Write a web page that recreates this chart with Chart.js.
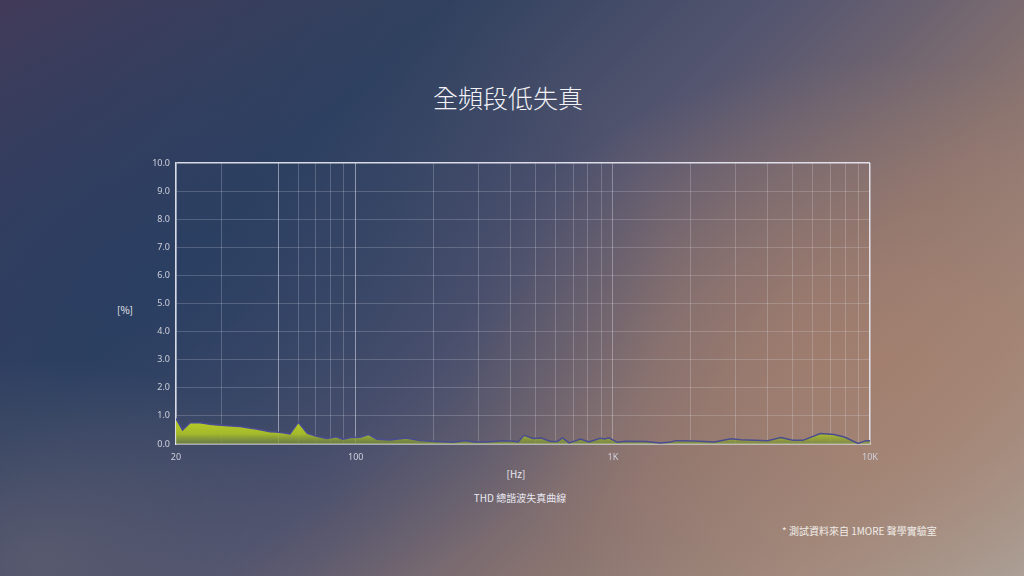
<!DOCTYPE html>
<html>
<head>
<meta charset="utf-8">
<script src="https://cdn.jsdelivr.net/npm/chart.js@4"></script>
<style>
    html, body { margin: 0; padding: 0; }
    body {
        width: 1024px; height: 576px; overflow: hidden; position: relative;
        font-family: "Noto Sans CJK TC", "Noto Sans", sans-serif;
        background:
            radial-gradient(ellipse 300px 200px at 40px 560px, rgba(92,92,112,0.85), rgba(92,92,112,0) 100%),
            radial-gradient(ellipse 520px 340px at 150px 280px, rgba(40,62,100,0.7), rgba(40,62,100,0) 100%),
            radial-gradient(ellipse 420px 300px at 880px 360px, rgba(168,128,108,0.7), rgba(168,128,108,0) 100%),
            linear-gradient(135deg, #453a58 0%, #30415f 28%, #565670 50%, #8a7470 70%, #a08a7e 85%, #aca49c 100%);
    }
    #wrap { position: absolute; left: 0; top: 0; width: 1024px; height: 576px; }
    .txt { position: absolute; color: #e8e8f0; white-space: nowrap; }
    #title { left: 0; width: 1016px; top: 79px; text-align: center; font-size: 25px; font-weight: 300; color: #f2f2f6; }
    #yname { left: 117px; top: 302px; font-size: 10px; }
    #xname { left: 0; width: 1032px; top: 466px; text-align: center; font-size: 10px; }
    #caption { left: 0; width: 1040px; top: 490px; text-align: center; font-size: 10px; }
    #note { left: 782px; top: 523px; font-size: 10px; color: #f0ece8; }
</style>
</head>
<body>
<div id="title" class="txt">全頻段低失真</div>
<div id="yname" class="txt">[%]</div>
<div id="xname" class="txt">[Hz]</div>
<div id="caption" class="txt">THD 總諧波失真曲線</div>
<div id="note" class="txt">* 測試資料來自 1MORE 聲學實驗室</div>
<div id="wrap"><canvas id="thdChart" width="1024" height="576"></canvas></div>

<script>
// frequency (Hz) and THD (%)
const freqs = [
    20, 21.2, 22.7, 24.8, 27.1, 29, 31, 33, 35.5, 38, 41, 44, 46.4, 49, 52, 55.5,
    59.8, 64.8, 70, 77, 84, 89, 96, 104, 112, 121, 136, 157, 178, 206, 240, 267,
    289, 324, 375, 412, 428, 452, 489, 527, 573, 609, 637, 676, 749, 807, 894, 930,
    965, 1040, 1120, 1340, 1530, 1680, 1760, 2070, 2480, 2880, 3150, 4000, 4500, 5010,
    5480, 6410, 7240, 7950, 8980, 9640, 10000
];
const thd = [
    0.91, 0.50, 0.76, 0.76, 0.70, 0.68, 0.66, 0.64, 0.62, 0.58, 0.53, 0.48, 0.44, 0.43, 0.40, 0.36,
    0.77, 0.38, 0.28, 0.20, 0.26, 0.17, 0.23, 0.24, 0.34, 0.17, 0.14, 0.21, 0.12, 0.09, 0.06, 0.12,
    0.07, 0.07, 0.12, 0.10, 0.07, 0.31, 0.20, 0.21, 0.09, 0.09, 0.22, 0.04, 0.18, 0.07, 0.20, 0.18,
    0.22, 0.06, 0.10, 0.09, 0.04, 0.07, 0.12, 0.11, 0.07, 0.19, 0.15, 0.12, 0.23, 0.13,
    0.13, 0.37, 0.34, 0.25, 0.02, 0.12, 0.12
];

// vertical grid positions and the few that get a label
const xGrid = [20, 30, 50, 60, 70, 80, 90, 100, 200, 300, 400, 500, 600, 700, 800, 900,
               1000, 2000, 3000, 4000, 5000, 6000, 7000, 8000, 9000, 10000];
const xLabels = { 20: "20", 100: "100", 1000: "1K", 10000: "10K" };
const yMin = 0, yMax = 10, yStep = 1;

document.addEventListener("DOMContentLoaded", () => {

    const canvas = document.getElementById("thdChart");
    const tickColor = "#cfd0dc";
    const tickFont = { family: "Noto Sans, sans-serif", size: 9 };

    // lime fill, fading a bit towards the baseline
    function fillGradient(context) {
        const chart = context.chart;
        const area = chart.chartArea;
        if (!area) return "rgba(180,200,40,0.9)";
        const yScale = chart.scales.y;
        const g = chart.ctx.createLinearGradient(0, yScale.getPixelForValue(0.9), 0, area.bottom);
        g.addColorStop(0, "rgba(188,208,38,1)");
        g.addColorStop(0.6, "rgba(170,192,40,0.95)");
        g.addColorStop(1, "rgba(120,140,60,0.7)");
        return g;
    }

    new Chart(canvas, {
        type: "line",
        data: {
            datasets: [{
                data: freqs.map((f, i) => ({ x: f, y: thd[i] })),
                borderColor: "#4a4c92",
                borderWidth: 1.5,
                backgroundColor: fillGradient,
                fill: "origin",
                pointRadius: 0,
                tension: 0
            }]
        },
        options: {
            responsive: false,
            animation: false,
            layout: { padding: { left: 0, top: 163, right: 154, bottom: 102 } },
            plugins: {
                legend: { display: false },
                tooltip: { enabled: false }
            },
            scales: {
                x: {
                    type: "logarithmic",
                    min: 20,
                    max: 10000,
                    afterBuildTicks: axis => {
                        axis.ticks = xGrid.map(v => ({ value: v }));
                    },
                    afterFit: axis => { axis.height = 30; },
                    ticks: {
                        autoSkip: false,
                        maxRotation: 0,
                        color: tickColor,
                        font: tickFont,
                        padding: 8,
                        callback: value => xLabels[value] || ""
                    },
                    grid: {
                        drawTicks: false,
                        color: ctx => {
                            const v = ctx.tick && ctx.tick.value;
                            if (v === 10000) return "rgba(235,235,245,0.9)";
                            if (v === 50 || v === 100) return "rgba(235,235,245,0.5)";
                            if (v === 1000) return "rgba(235,235,245,0.35)";
                            return "rgba(235,235,245,0.22)";
                        },
                        lineWidth: ctx => (ctx.tick && ctx.tick.value === 10000) ? 1.5 : 1
                    },
                    border: { color: "rgba(235,235,245,0.9)", width: 1.5 }
                },
                y: {
                    min: yMin,
                    max: yMax,
                    afterFit: axis => { axis.width = 176; },
                    ticks: {
                        stepSize: yStep,
                        color: tickColor,
                        font: tickFont,
                        padding: 6,
                        callback: value => value.toFixed(1)
                    },
                    grid: {
                        drawTicks: false,
                        color: ctx => (ctx.tick && ctx.tick.value === yMax)
                            ? "rgba(235,235,245,0.9)" : "rgba(235,235,245,0.2)",
                        lineWidth: ctx => (ctx.tick && ctx.tick.value === yMax) ? 1.5 : 1
                    },
                    border: { color: "rgba(235,235,245,0.9)", width: 1.5 }
                }
            }
        }
    });
});
</script>
</body>
</html>
